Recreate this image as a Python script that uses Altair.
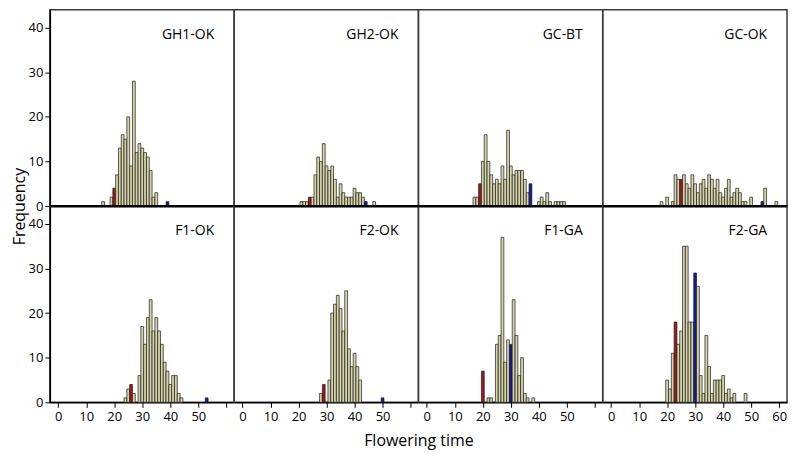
import altair as alt
import pandas as pd

# ---------------- data (day : frequency), red / blue highlighted days ----------------
gh1_ok_days = [16, 19, 20, 21, 22, 23, 24, 25, 26, 27, 28, 29, 30, 31, 32, 33, 34, 35, 39]
gh1_ok_freq = [1, 2, 4, 7, 13, 16, 15, 20, 9, 28, 12, 14, 13, 12, 11, 8, 2, 3, 1]
gh1_ok_red, gh1_ok_blue = 20, 39

gh2_ok_days = [21, 22, 23, 24, 25, 26, 27, 28, 29, 30, 31, 32, 33, 34, 35, 36, 37, 38, 39, 40, 41, 42, 43, 44, 47]
gh2_ok_freq = [1, 1, 1, 2, 2, 7, 11, 10, 14, 9, 8, 9, 6, 2, 5, 3, 2, 2, 2, 4, 3, 3, 2, 1, 1]
gh2_ok_red, gh2_ok_blue = 24, 44

gc_bt_days = [17, 18, 19, 20, 21, 22, 23, 24, 25, 26, 27, 28, 29, 30, 31, 32, 33, 34, 35, 36, 37,
              40, 41, 42, 43, 44, 46, 47, 48, 49]
gc_bt_freq = [2, 2, 5, 10, 16, 10, 7, 5, 6, 5, 9, 6, 17, 9, 7, 8, 8, 8, 6, 3, 5,
              1, 2, 1, 3, 1, 1, 1, 1, 1]
gc_bt_red, gc_bt_blue = 19, 37

gc_ok_days = [18, 20, 22, 23, 24, 25, 26, 27, 28, 29, 30, 31, 32, 33, 34, 35, 36, 37, 38, 39, 40,
              41, 42, 43, 44, 45, 46, 47, 48, 50, 54, 55, 59]
gc_ok_freq = [1, 2, 1, 7, 6, 6, 7, 5, 4, 7, 5, 3, 5, 6, 4, 7, 6, 4, 6, 3, 2,
              4, 6, 2, 3, 4, 3, 1, 1, 2, 1, 4, 1]
gc_ok_red, gc_ok_blue = 25, 54

f1_ok_days = [24, 25, 26, 27, 29, 30, 31, 32, 33, 34, 35, 36, 37, 38, 39, 40, 41, 42, 43, 44, 53]
f1_ok_freq = [1, 3, 4, 2, 6, 17, 13, 19, 23, 16, 19, 16, 13, 9, 7, 4, 6, 6, 2, 1, 1]
f1_ok_red, f1_ok_blue = 26, 53

f2_ok_days = [28, 29, 31, 32, 33, 34, 35, 36, 37, 38, 39, 40, 41, 42, 50]
f2_ok_freq = [2, 4, 5, 20, 22, 24, 21, 16, 25, 12, 8, 11, 8, 5, 1]
f2_ok_red, f2_ok_blue = 29, 50

f1_ga_days = [20, 22, 23, 25, 26, 27, 28, 29, 30, 31, 32, 33, 34, 35, 36, 38]
f1_ga_freq = [7, 1, 1, 13, 15, 37, 9, 14, 13, 23, 15, 6, 10, 2, 1, 1]
f1_ga_red, f1_ga_blue = 20, 30

f2_ga_days = [20, 21, 22, 23, 24, 25, 26, 27, 28, 29, 30, 31, 32, 33, 34, 35, 36, 37, 38, 39, 40,
              41, 42, 43, 44, 48]
f2_ga_freq = [5, 3, 11, 18, 13, 16, 35, 35, 18, 18, 29, 26, 6, 2, 15, 8, 2, 5, 5, 5, 6,
              2, 3, 1, 2, 2]
f2_ga_red, f2_ga_blue = 23, 30

panel_names = ["GH1-OK", "GH2-OK", "GC-BT", "GC-OK", "F1-OK", "F2-OK", "F1-GA", "F2-GA"]
panel_data = [
    (gh1_ok_days, gh1_ok_freq, gh1_ok_red, gh1_ok_blue),
    (gh2_ok_days, gh2_ok_freq, gh2_ok_red, gh2_ok_blue),
    (gc_bt_days, gc_bt_freq, gc_bt_red, gc_bt_blue),
    (gc_ok_days, gc_ok_freq, gc_ok_red, gc_ok_blue),
    (f1_ok_days, f1_ok_freq, f1_ok_red, f1_ok_blue),
    (f2_ok_days, f2_ok_freq, f2_ok_red, f2_ok_blue),
    (f1_ga_days, f1_ga_freq, f1_ga_red, f1_ga_blue),
    (f2_ga_days, f2_ga_freq, f2_ga_red, f2_ga_blue),
]
x_ticks = [0, 10, 20, 30, 40, 50, 60]
y_ticks = [0, 10, 20, 30, 40]

# ---------------- styling ----------------
W, H = 185, 197
FONT = "Open Sans"
BASE, RED, BLUE = "#d7d4aa", "#a3161b", "#18189c"
x_scale = alt.Scale(domain=[-3, 62.8], nice=False, zero=False)
y_scale = alt.Scale(domain=[0, 44], nice=False)


def make_panel(idx):
    name = panel_names[idx]
    days, freq, red, blue = panel_data[idx]
    row, col = divmod(idx, 4)
    df = pd.DataFrame({"day": days, "freq": freq})
    df["lo"] = df["day"] - 0.5
    df["hi"] = df["day"] + 0.5
    df["kind"] = ["red" if d == red else ("blue" if d == blue else "base") for d in days]

    if row == 0:
        x_axis = alt.Axis(labels=False, ticks=False, grid=False, title=None,
                          domainColor="black", domainWidth=2, minExtent=0)
    else:
        kw = dict(values=x_ticks, grid=False, tickSize=5, tickColor="black", tickWidth=1,
                  domainColor="black", domainWidth=1.5, labelFontSize=13, labelColor="black",
                  labelFont=FONT, labelPadding=3)
        if col < 3:
            kw["labelExpr"] = "datum.value == 60 ? '' : datum.label"
        if col == 1:
            kw.update(title="Flowering time", titleX=W, titleFontSize=16, titleFont=FONT,
                      titleFontWeight="normal", titleColor="black", titlePadding=9)
        else:
            kw["title"] = None
        x_axis = alt.Axis(**kw)

    if col == 0:
        kw = dict(values=y_ticks, grid=False, tickSize=5, tickColor="black", tickWidth=1,
                  domainColor="black", domainWidth=1.5, labelFontSize=13, labelColor="black",
                  labelFont=FONT, labelPadding=2)
        if row == 0:
            kw.update(title="Frequency", titleY=H, titleFontSize=16, titleFont=FONT,
                      titleFontWeight="normal", titleColor="black", titlePadding=1)
        else:
            kw["title"] = None
        y_enc = alt.Y("freq:Q", scale=y_scale, axis=alt.Axis(**kw))
    else:
        y_enc = alt.Y("freq:Q", scale=y_scale, axis=None)

    bars = alt.Chart(df).mark_bar(stroke="#1a1a1a", strokeWidth=0.7).encode(
        x=alt.X("lo:Q", scale=x_scale, axis=x_axis),
        x2="hi:Q",
        y=y_enc,
        y2=alt.datum(0),
        color=alt.Color("kind:N",
                        scale=alt.Scale(domain=["base", "red", "blue"], range=[BASE, RED, BLUE]),
                        legend=None),
    )
    label = alt.Chart(pd.DataFrame({"t": [name]})).mark_text(
        align="right", baseline="middle", font=FONT, fontSize=14, color="black"
    ).encode(x=alt.value(W - 20), y=alt.value(25), text="t:N")
    layers = [bars, label]
    if row == 1:
        # black zero line of the upper row, drawn on top of the lower row's frame
        sep = alt.Chart(pd.DataFrame({"t": [name]})).mark_rule(
            color="black", strokeWidth=2
        ).encode(x=alt.value(0), x2=alt.value(W), y=alt.value(0))
        layers.append(sep)
    return alt.layer(*layers).properties(
        width=W, height=H,
        view=alt.ViewBackground(stroke="#3a3a3a", strokeWidth=1.5),
    )


chart = alt.concat(*[make_panel(i) for i in range(8)], columns=4, spacing=0,
                   bounds="flush").properties(
    padding={"left": 2, "top": 0, "right": 0, "bottom": 0}
).configure_view(
    stroke="#3a3a3a", strokeWidth=1.5
).configure(font=FONT).resolve_scale(color="independent")

chart.save("out.html", embed_options={"renderer": "svg", "actions": False})
